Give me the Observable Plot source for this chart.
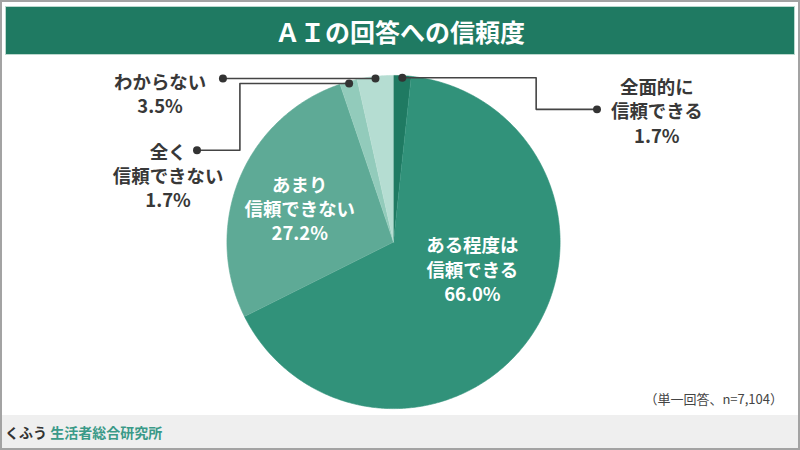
<!DOCTYPE html>
<html><head><meta charset="utf-8">
<script src="https://cdn.jsdelivr.net/npm/d3@7"></script>
<script src="https://cdn.jsdelivr.net/npm/@observablehq/plot@0.6"></script>
<style>
body{margin:0;background:#fff;font-family:"Noto Sans CJK JP","Noto Sans",sans-serif;}
#frame{position:relative;width:800px;height:450px;box-sizing:border-box;border:2px solid #a3a3a3;overflow:hidden;background:#fff}
#title{position:absolute;left:3px;top:4px;width:788px;height:47px;background:#1f7a62;border:1px solid #bcd8ce;color:#fff;font-size:25px;font-weight:bold;display:flex;align-items:center;justify-content:center;}
#chart{position:absolute;left:-2px;top:54px}
#note{position:absolute;right:15px;top:387px;font-size:13px;color:#444}
#footer{position:absolute;left:0;top:413px;width:796px;height:33px;background:#efefef;font-size:14px;font-weight:bold;display:flex;align-items:center;padding-left:3px;box-sizing:border-box;color:#333}
#footer .t{color:#3a9a88}
</style>
</head><body>
<div id="frame">
  <div id="title">ＡＩの回答への信頼度</div>
  <div id="chart"></div>
  <div id="note">（単一回答、n=7,104）</div>
  <div id="footer"><span>くふう</span>&nbsp;<span class="t">生活者総合研究所</span></div>
</div>
<script>
// ---- data ----
const categories = ["全面的に信頼できる","ある程度は信頼できる","あまり信頼できない","全く信頼できない","わからない"];
const labelLines = ["全面的に\n信頼できる","ある程度は\n信頼できる","あまり\n信頼できない","全く\n信頼できない","わからない"];
const values = [1.7, 66.0, 27.2, 1.7, 3.5];
const colors = ["#1f7a62","#31927a","#5eaa96","#92cbbb","#b5ddd2"];

// ---- layout ----
const W = 800, H = 360, cx = 394, cy = 186, R = 167;
const total = d3.sum(values);
let acc = 0;
const slices = categories.map((c, i) => {
  const a0 = acc / total * 2 * Math.PI; acc += values[i];
  const a1 = acc / total * 2 * Math.PI;
  return {c, i, a0, a1, mid: (a0 + a1) / 2};
});
const px = (a, r) => cx + r * Math.sin(a);
const py = (a, r) => cy - r * Math.cos(a);

const polyPts = slices.flatMap(s => {
  const n = Math.max(2, Math.ceil((s.a1 - s.a0) / 0.01));
  const pts = [{c: s.c, x: cx, y: cy}];
  for (let k = 0; k <= n; k++) {
    const a = s.a0 + (s.a1 - s.a0) * k / n;
    pts.push({c: s.c, x: px(a, R), y: py(a, R)});
  }
  return pts;
});

// outer label layout: elbow points after the rim point, label center
const outerLayout = {
  0: {path: (rx, ry) => [[537, ry], [537, 53], [598, 53]], lx: 658, ly: 54},
  4: {path: (rx, ry) => [[223, ry]], lx: 160, ly: 37},
  3: {path: (rx, ry) => [[240, ry], [240, 94], [197, 94]], lx: 168, ly: 119}
};
const innerLayout = {2: {lx: 300, ly: 152}, 1: {lx: 473, ly: 213}};

const leaders = [], dots = [], outerText = [], innerText = [];
for (const s of slices) {
  const txt = labelLines[s.i] + "\n" + values[s.i].toFixed(1) + "%";
  if (outerLayout[s.i]) {
    const L = outerLayout[s.i];
    const rx = px(s.mid, R - 2), ry = py(s.mid, R - 2);
    const pts = [[rx, ry], ...L.path(rx, ry)];
    pts.forEach(p => leaders.push({c: s.c, x: p[0], y: p[1]}));
    dots.push({x: rx, y: ry}, {x: pts[pts.length - 1][0], y: pts[pts.length - 1][1]});
    outerText.push({x: L.lx, y: L.ly, t: txt});
  } else {
    const L = innerLayout[s.i];
    innerText.push({x: L.lx, y: L.ly, t: txt});
  }
}

const chart = Plot.plot({
  width: W, height: H, margin: 0,
  x: {domain: [0, W], range: [0, W], axis: null},
  y: {domain: [0, H], range: [0, H], axis: null},
  color: {domain: categories, range: colors},
  style: {fontFamily: '"Noto Sans CJK JP","Noto Sans",sans-serif', background: "transparent", overflow: "visible"},
  marks: [
    Plot.line(polyPts, {x: "x", y: "y", z: "c", fill: "c", stroke: "c", strokeWidth: 0.6}),
    Plot.line(leaders, {x: "x", y: "y", z: "c", stroke: "#444", strokeWidth: 1.6}),
    Plot.dot(dots, {x: "x", y: "y", r: 4, fill: "#333", stroke: "none"}),
    Plot.text(outerText, {x: "x", y: "y", text: "t", fontSize: 18.5, fontWeight: "bold", fill: "#383838", lineHeight: 1.32, textAnchor: "middle"}),
    Plot.text(innerText, {x: "x", y: "y", text: "t", fontSize: 18.5, fontWeight: "bold", fill: "#fff", lineHeight: 1.32, textAnchor: "middle"})
  ]
});
document.getElementById("chart").append(chart);
</script>
</body></html>
